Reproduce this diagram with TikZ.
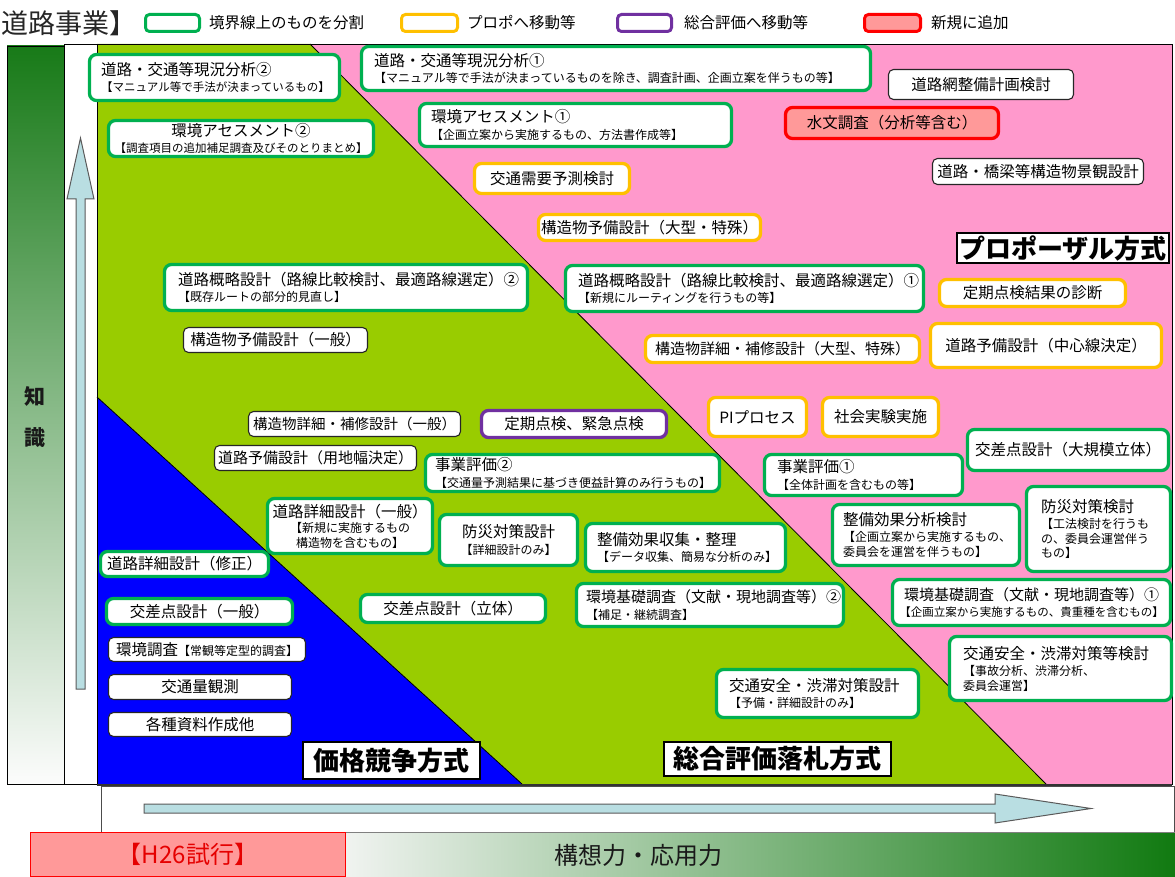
\documentclass[tikz,border=0pt]{standalone}
\usepackage{fontspec}
\setmainfont{Noto Sans CJK JP}
\definecolor{cG}{RGB}{0,176,80}
\definecolor{cO}{RGB}{255,192,0}
\definecolor{cP}{RGB}{112,48,160}
\definecolor{cR}{RGB}{255,0,0}
\definecolor{cRf}{RGB}{255,153,153}
\definecolor{bgPink}{RGB}{255,153,204}
\definecolor{bgGreen}{RGB}{153,204,0}
\definecolor{bgBlue}{RGB}{0,0,255}
\definecolor{arrFill}{RGB}{185,222,226}
\definecolor{arrLine}{RGB}{90,90,90}
\definecolor{dkG}{RGB}{24,122,24}
\definecolor{midG}{RGB}{140,178,140}
\definecolor{ltG}{RGB}{252,252,252}
\definecolor{barL}{RGB}{240,243,240}
\definecolor{barM}{RGB}{160,188,160}
\definecolor{barR}{RGB}{17,122,17}
\newcommand\mainf{\fontsize{15.5}{17}\selectfont}
\newcommand\mainfs{\fontsize{15}{17}\selectfont}
\newcommand\subf{\fontsize{12}{14.5}\selectfont}
\newcommand\subfs{\fontsize{11.5}{14.5}\selectfont}
\newcommand\heavyf{\fontsize{26}{28}\selectfont\bfseries}
\newcommand\titlef{\fontsize{27}{30}\selectfont}
\tikzset{
  bx/.style={rounded corners=7pt, fill=white, line width=3.3pt, inner sep=1pt, font=\subf},
  gbox/.style={bx, draw=cG},
  obox/.style={bx, draw=cO},
  pbox/.style={bx, draw=cP},
  rbox/.style={bx, draw=cR, fill=cRf},
  tbox/.style={rounded corners=5pt, fill=white, draw=black!85, line width=1.1pt, inner sep=1pt, font=\subf},
  btext/.style={anchor=west, align=left, inner sep=0pt, font=\subf},
  mlabel/.style={draw=black, line width=1.3pt, fill=white, inner sep=0pt, font=\heavyf},
  lgbox/.style={rounded corners=4pt, line width=3pt, fill=white, inner sep=0pt},
  lgtext/.style={anchor=west, inner sep=0pt, font=\mainf},
  regline/.style={draw=black, line width=0.8pt},
  bigarrow/.style={fill=arrFill, draw=arrLine, line width=1pt},
}
% centered box: style, name, x1, y1, x2, y2, content
\newcommand\boxC[7]{%
  \pgfmathsetmacro\myw{#5-#3-3}\pgfmathsetmacro\myh{#6-#4-3}%
  \pgfmathsetmacro\myx{(#3+#5)/2}\pgfmathsetmacro\myy{(#4+#6)/2}%
  \node[#1, align=center, minimum width=\myw pt, minimum height=\myh pt] (#2) at (\myx,\myy) {#7};}
% left-aligned box: style, name, x1, y1, x2, y2, inset, content (text node name-t)
\newcommand\boxL[8]{%
  \pgfmathsetmacro\myw{#5-#3-3}\pgfmathsetmacro\myh{#6-#4-3}%
  \pgfmathsetmacro\myx{(#3+#5)/2}\pgfmathsetmacro\myy{(#4+#6)/2}%
  \pgfmathsetmacro\mytx{#3+#7}%
  \node[#1, minimum width=\myw pt, minimum height=\myh pt] (#2) at (\myx,\myy) {};
  \node[btext] (#2-t) at (\mytx,\myy) {#8};}
\begin{document}
\begin{tikzpicture}[x=1pt,y=-1pt]
\useasboundingbox (0,0) rectangle (1175,877);
\fill[white] (0,0) rectangle (1175,877);

% ---- title and legend
\node[anchor=west, inner sep=0pt, font=\titlef, text=black!85] (title) at (1,23) {道路事業】};
\node[lgbox, draw=cG, minimum width=54pt, minimum height=17pt] (lgG) at (172.5,23) {};
\node[lgtext] (lgGt) at (209,23) {境界線上のものを分割};
\node[lgbox, draw=cO, minimum width=56pt, minimum height=17pt] (lgO) at (429.5,23) {};
\node[lgtext] (lgOt) at (467,23) {プロポへ移動等};
\node[lgbox, draw=cP, minimum width=54pt, minimum height=17pt] (lgP) at (644.5,23) {};
\node[lgtext] (lgPt) at (684,23) {総合評価へ移動等};
\node[lgbox, draw=cR, fill=cRf, minimum width=56pt, minimum height=17pt] (lgR) at (892.5,23) {};
\node[lgtext] (lgRt) at (931,23) {新規に追加};

% ---- left knowledge bar
\shadedraw[top color=dkG, middle color=midG, bottom color=ltG, draw=black, line width=0.8pt] (7,46) rectangle (64,784);
\node[font=\fontsize{21}{24}\selectfont\bfseries, text=black!90] (chi) at (35,396) {知};
\node[font=\fontsize{21}{24}\selectfont\bfseries, text=black!90] (shiki) at (35,438) {識};
\draw[fill=white, line width=0.8pt] (64,44) rectangle (97,784);
\draw[bigarrow] (76,689) -- (76,199) -- (67,199) -- (80.5,138) -- (94,199) -- (85,199) -- (85,689) -- cycle;

% ---- coloured regions
\fill[bgPink] (97,44) rectangle (1172,784);
\fill[bgGreen] (97,44) -- (310,44) -- (1046,784) -- (97,784) -- cycle;
\fill[bgBlue] (97,397) -- (522,784) -- (97,784) -- cycle;
\draw[regline] (310,44) -- (1046,784);
\draw[regline] (97,397) -- (522,784);
\draw[regline] (97,44) rectangle (1172,784);
\draw[draw=black!80, line width=2pt] (97,785) -- (1172,785);

% ---- bottom arrow strip
\draw[fill=white, draw=black!70, line width=0.7pt] (101,786) rectangle (1174,832);
\draw[bigarrow] (144,804) -- (995,804) -- (995,794) -- (1091,808.5) -- (995,823) -- (995,813) -- (144,813) -- cycle;

% ---- bottom bar
\node[draw=cR, fill=cRf, line width=1pt, minimum width=315pt, minimum height=44pt, inner sep=0pt, font=\fontsize{24}{26}\selectfont, text=cR!90!black] (h26) at (188,854.5) {【H26試行】};
\shade[left color=barL, middle color=barM, right color=barR] (346,832.5) rectangle (1175,877);
\draw[draw=black!50, line width=0.6pt] (346,832.5) -- (1175,832.5);
\node[inner sep=0pt, font=\fontsize{24}{26}\selectfont, text=black!90] (kousou) at (638,855) {構想力・応用力};

% ---- boxes: top area
\boxL{gbox}{gen2}{88}{53}{341}{102}{13}{{\mainf 道路・交通等現況分析②}\\[2pt]{\subfs 【マニュアル等で手法が決まっているもの】}}
\boxL{gbox}{gen1}{360}{45}{872}{92}{14}{{\mainf 道路・交通等現況分析①}\\[2pt]【マニュアル等で手法が決まっているものを除き、調査計画、企画立案を伴うもの等】}
\boxC{tbox}{netw}{887}{68}{1075}{101}{\mainf 道路網整備計画検討}
\boxC{gbox}{env2}{107}{119}{375}{158}{{\mainf 環境アセスメント②}\\[1pt]{\subfs 【調査項目の追加補足調査及びそのとりまとめ】}}
\boxL{gbox}{env1}{418}{102}{733}{148}{13}{{\mainf 環境アセスメント①}\\[2pt]【企画立案から実施するもの、方法書作成等】}
\boxC{rbox}{water}{784}{106}{1000}{140}{\mainf 水文調査（分析等含む）}
\boxC{obox}{demand}{473}{162}{631}{195}{\mainf 交通需要予測検討}
\boxC{tbox}{scenic}{931}{157}{1145}{186}{\mainf 道路・橋梁等構造物景観設計}
\boxC{obox}{strprelimL}{537}{213}{762}{242}{\mainf 構造物予備設計（大型・特殊）}
\node[mlabel, minimum width=212pt, minimum height=30pt] (propo) at (1063,248) {プロポーザル方式};

% ---- middle area
\boxL{gbox}{route2}{163}{263}{529}{312}{15}{{\mainf 道路概略設計（路線比較検討、最適路線選定）②}\\[2pt]【既存ルートの部分的見直し】}
\boxL{gbox}{route1}{564}{264}{925}{313}{14}{{\mainf 道路概略設計（路線比較検討、最適路線選定）①}\\[2pt]【新規にルーティングを行うもの等】}
\boxC{obox}{diag}{938}{278}{1127}{308}{\mainf 定期点検結果の診断}
\boxC{tbox}{strprelimG}{182}{326}{369}{354}{\mainf 構造物予備設計（一般）}
\boxC{obox}{strdetailL}{644}{334}{921}{364}{\mainfs 構造物詳細・補修設計（大型、特殊）}
\boxC{obox}{roadprelimC}{929}{322}{1163}{369}{\mainf 道路予備設計（中心線決定）}
\boxC{obox}{pi}{707}{396}{808}{438}{\mainf PIプロセス}
\boxC{obox}{social}{821}{396}{940}{438}{\mainf 社会実験実施}
\boxC{tbox}{strdetailG}{247}{410}{462}{438}{\fontsize{14.5}{17}\selectfont 構造物詳細・補修設計（一般）}
\boxC{pbox}{periodic}{480}{409}{668}{439}{\mainf 定期点検、緊急点検}
\boxC{tbox}{roadprelimW}{213}{444}{418}{472}{\mainfs 道路予備設計（用地幅決定）}
\boxC{gbox}{bigint}{966}{428}{1170}{472}{\mainf 交差点設計（大規模立体）}
\boxL{gbox}{eval2}{424}{453}{721}{493}{11}{{\mainf 事業評価②}\\[2pt]【交通量予測結果に基づき便益計算のみ行うもの】}
\boxL{gbox}{eval1}{763}{453}{964}{497}{14}{{\mainf 事業評価①}\\[2pt]【全体計画を含むもの等】}
\boxC{gbox}{roaddetailG}{266}{497}{434}{555}{{\mainf 道路詳細設計（一般）}\\[1pt]【新規に実施するもの\\構造物を含むもの】}
\boxC{gbox}{disasterD}{438}{513}{579}{567}{{\mainf 防災対策設計}\\[2pt]【詳細設計のみ】}
\boxL{gbox}{effectC}{584}{522}{787}{573}{13}{{\mainf 整備効果収集・整理}\\[2pt]【データ収集、簡易な分析のみ】}
\boxL{gbox}{effectA}{831}{503}{1021}{567}{12}{{\mainf 整備効果分析検討}\\[2pt]【企画立案から実施するもの、\\委員会を運営を伴うもの】}
\boxL{gbox}{disasterS}{1025}{485}{1172}{573}{16}{{\mainf 防災対策検討}\\[2pt]【工法検討を行うも\\の、委員会運営伴う\\もの】}

% ---- lower area
\boxC{gbox}{roaddetailR}{99}{550}{270}{578}{\mainf 道路詳細設計（修正）}
\boxC{gbox}{intG}{105}{597}{294}{626}{\mainf 交差点設計（一般）}
\boxC{gbox}{int3D}{359}{593}{547}{624}{\mainf 交差点設計（立体）}
\boxL{gbox}{envbase2}{575}{582}{845}{628}{11}{{\mainfs 環境基礎調査（文献・現地調査等）②}\\[2pt]【補足・継続調査】}
\boxC{gbox}{envbase1}{891}{578}{1172}{627}{{\mainfs 環境基礎調査（文献・現地調査等）①}\\[1pt]{\subfs 【企画立案から実施するもの、貴重種を含むもの】}}
\boxC{tbox}{envsurvey}{107}{636}{307}{663}{{\mainf 環境調査}{\subf 【常観等定型的調査】}}
\boxL{gbox}{trafficS}{948}{635}{1173}{702}{15}{{\mainf 交通安全・渋滞対策等検討}\\[2pt]【事故分析、渋滞分析、\\委員会運営】}
\boxC{tbox}{trafficcount}{107}{673}{293}{701}{\mainf 交通量観測}
\boxC{tbox}{docs}{107}{711}{293}{738}{\mainf 各種資料作成他}
\boxL{gbox}{safetyD}{715}{668}{920}{719}{14}{{\mainf 交通安全・渋滞対策設計}\\[2pt]【予備・詳細設計のみ】}
\node[mlabel, minimum width=177pt, minimum height=37pt] (price) at (391.5,760.5) {価格競争方式};
\node[mlabel, minimum width=227pt, minimum height=34pt] (comp) at (777.5,759) {総合評価落札方式};
\end{tikzpicture}
\end{document}
